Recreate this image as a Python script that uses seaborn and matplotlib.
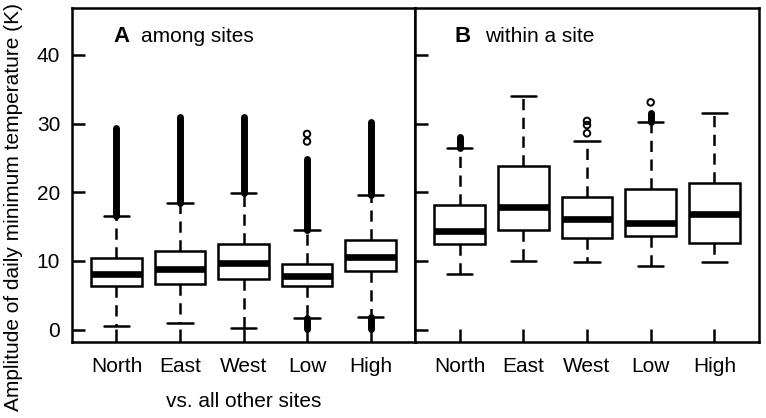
import numpy as np
import pandas as pd
import matplotlib
matplotlib.use("Agg")
import matplotlib.pyplot as plt
import seaborn as sns

# ---------------- data ----------------
sites = ["North", "East", "West", "Low", "High"]

# Panel A: among sites (five-number summaries)
a_lo = [0.5, 0.9, 0.25, 1.7, 1.8]
a_q1 = [6.3, 6.6, 7.4, 6.4, 8.5]
a_med = [8.1, 8.8, 9.75, 7.85, 10.6]
a_q3 = [10.4, 11.4, 12.4, 9.6, 13.0]
a_hi = [16.5, 18.4, 19.9, 14.45, 19.6]
# extent of the dense runs of outliers beyond the whiskers
a_dense_top = [29.4, 31.0, 31.0, 24.9, 30.2]
a_dense_bottom = [None, None, None, 0.1, 0.1]
a_single = [[], [], [], [27.4, 28.5], []]

# Panel B: within a site
b_lo = [8.15, 10.0, 9.8, 9.2, 9.8]
b_q1 = [12.5, 14.5, 13.4, 13.6, 12.65]
b_med = [14.35, 17.9, 16.15, 15.5, 16.8]
b_q3 = [18.1, 23.8, 19.25, 20.45, 21.4]
b_hi = [26.5, 34.0, 27.5, 30.25, 31.5]
b_dense_top = [28.0, None, None, 31.6, None]
b_dense_bottom = [None, None, None, None, None]
b_single = [[], [], [28.6, 29.8, 30.4], [33.1], []]

y_ticks = [0, 10, 20, 30, 40]

# ---------------- style ----------------
sns.set_style("ticks")
plt.rcParams["font.family"] = ["Liberation Sans", "DejaVu Sans"]
plt.rcParams["font.size"] = 15
plt.rcParams["text.color"] = "black"
plt.rcParams["axes.labelcolor"] = "black"

fig = plt.figure(figsize=(7.66, 4.18), dpi=100)
L, R, B, T = 72 / 766, 759 / 766, 1 - 342 / 418, 1 - 8.3 / 418
mid = 415 / 766
axA = fig.add_axes([L, B, mid - L, T - B])
axB = fig.add_axes([mid, B, R - mid, T - B])

LW = 1.8


def summary_frame(lo, q1, med, q3, hi):
    rows = []
    for s, a, b, c, d, e in zip(sites, lo, q1, med, q3, hi):
        for v in (a, b, c, d, e):
            rows.append({"site": s, "value": v})
    return pd.DataFrame(rows)


def draw(ax, lo, q1, med, q3, hi, dtop, dbot, single):
    df = summary_frame(lo, q1, med, q3, hi)
    sns.boxplot(
        data=df, x="site", y="value", order=sites, ax=ax,
        whis=(0, 100), width=0.8, color="white", linecolor="black",
        linewidth=LW, showfliers=False, saturation=1,
        medianprops=dict(linewidth=4.8, color="black", solid_capstyle="butt"),
        whiskerprops=dict(linestyle=(0, (4.5, 3)), linewidth=LW, color="black"),
        capprops=dict(linewidth=LW, color="black"),
        capwidths=0.4,
    )
    for i, s in enumerate(sites):
        if dtop[i] is not None:
            ax.vlines(i, hi[i], dtop[i], colors="black", linewidth=5,
                      capstyle="round", zorder=4)
        if dbot[i] is not None:
            ax.vlines(i, dbot[i], lo[i], colors="black", linewidth=5,
                      capstyle="round", zorder=4)
        if single[i]:
            ax.scatter([i] * len(single[i]), single[i], s=22,
                       facecolors="none", edgecolors="black",
                       linewidths=1.4, zorder=5)
    ax.set_xlim(-0.7, 4.7)
    ax.set_ylim(-1.8, 46.8)
    ax.set_yticks(y_ticks)
    ax.tick_params(direction="in", length=9.5, width=LW, color="black",
                   labelsize=15, labelcolor="black")
    ax.tick_params(axis="x", pad=11)
    ax.tick_params(axis="y", pad=8.5)
    for sp in ax.spines.values():
        sp.set_visible(True)
        sp.set_linewidth(LW)
        sp.set_color("black")
    ax.set_xlabel("")
    ax.set_ylabel("")


draw(axA, a_lo, a_q1, a_med, a_q3, a_hi, a_dense_top, a_dense_bottom, a_single)
draw(axB, b_lo, b_q1, b_med, b_q3, b_hi, b_dense_top, b_dense_bottom, b_single)

axB.tick_params(axis="y", labelleft=False)

axA.set_ylabel("Amplitude of daily minimum temperature (K)", fontsize=15,
               color="black")
axA.yaxis.set_label_coords(-0.143, 0.405)
axA.set_xlabel("vs. all other sites", fontsize=15, color="black")
axA.xaxis.set_label_coords(0.5, -0.15)

axA.text(0.1195, 0.9, "A", transform=axA.transAxes, fontsize=16,
         fontweight="bold", va="baseline", ha="left", color="black")
axA.text(0.2, 0.9, "among sites", transform=axA.transAxes, fontsize=15,
         va="baseline", ha="left", color="black")
axB.text(0.116, 0.9, "B", transform=axB.transAxes, fontsize=16,
         fontweight="bold", va="baseline", ha="left", color="black")
axB.text(0.203, 0.9, "within a site", transform=axB.transAxes, fontsize=15,
         va="baseline", ha="left", color="black")

fig.savefig("out.png", dpi=100, facecolor="white")
